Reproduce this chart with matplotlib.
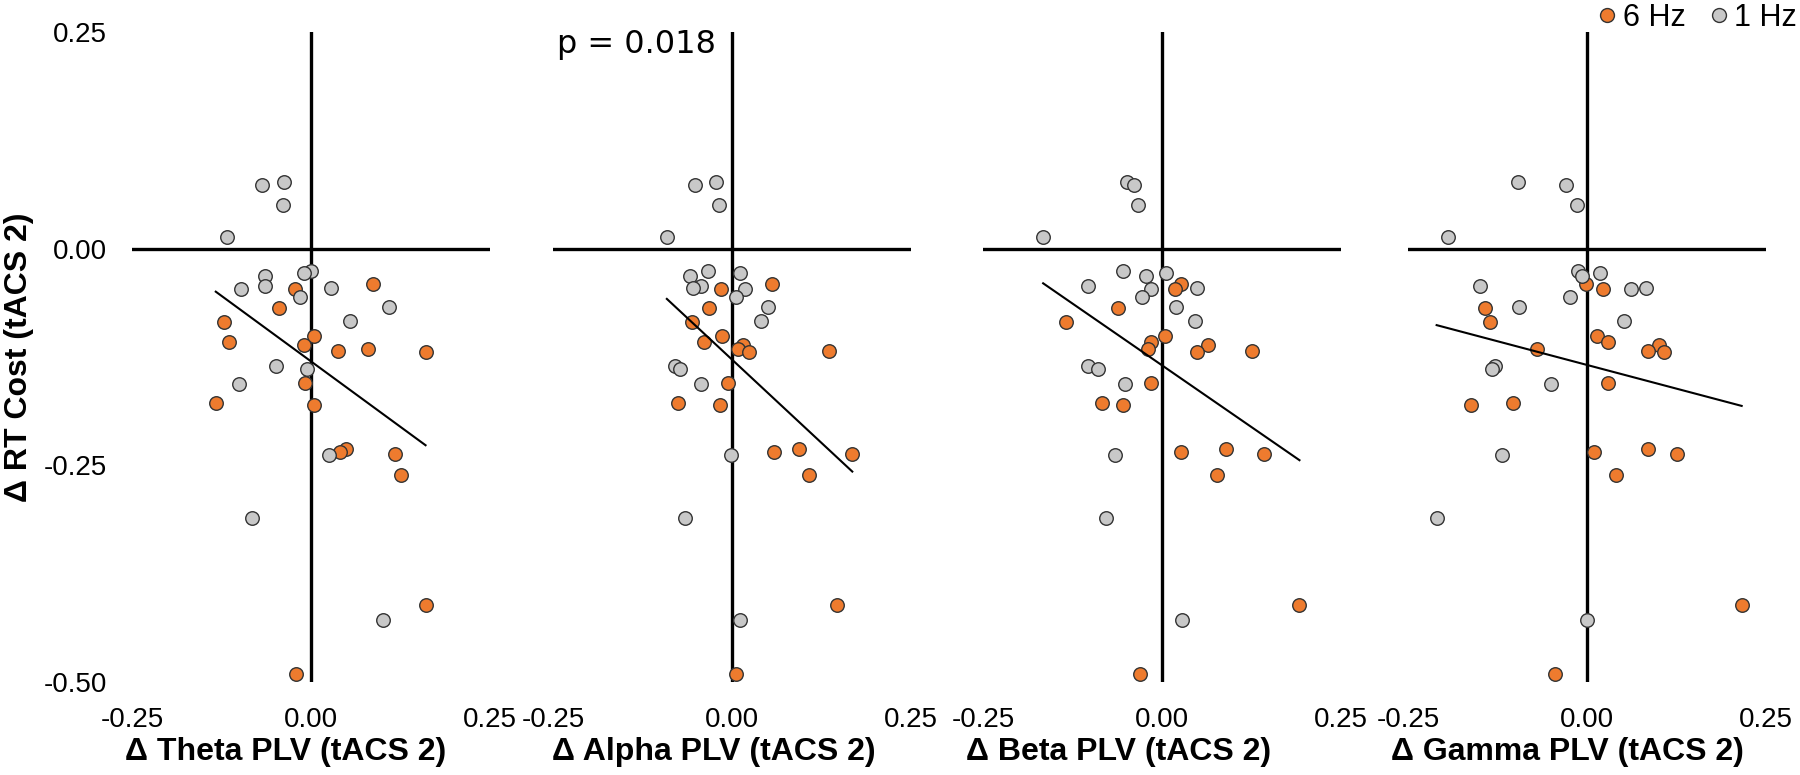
import numpy as np
import matplotlib
matplotlib.use('Agg')
import matplotlib.pyplot as plt

plt.rcParams['font.family'] = ['Liberation Sans', 'DejaVu Sans']
plt.rcParams['axes.unicode_minus'] = False

# Δ RT cost (tACS 2) - same subjects in every panel
rt_6hz = [-0.041, -0.047, -0.069, -0.085, -0.101, -0.108, -0.111, -0.116, -0.118, -0.119,
          -0.155, -0.178, -0.180, -0.231, -0.235, -0.237, -0.261, -0.411, -0.491]
rt_1hz = [0.077, 0.074, 0.050, 0.014, -0.026, -0.028, -0.032, -0.043, -0.045, -0.047,
          -0.056, -0.067, -0.084, -0.135, -0.139, -0.156, -0.238, -0.311, -0.428]

# Δ PLV (tACS 2) per band
theta_6hz = [0.087, -0.023, -0.045, -0.121, 0.004, -0.115, -0.010, 0.080, 0.038, 0.160,
             -0.008, -0.133, 0.004, 0.049, 0.041, 0.117, 0.126, 0.160, -0.021]
theta_1hz = [-0.038, -0.069, -0.039, -0.118, 0.000, -0.010, -0.064, -0.064, 0.028, -0.098,
             -0.015, 0.109, 0.055, -0.049, -0.006, -0.100, 0.025, -0.083, 0.100]
alpha_6hz = [0.056, -0.015, -0.032, -0.056, -0.014, -0.039, 0.016, 0.008, 0.135, 0.024,
             -0.006, -0.076, -0.017, 0.094, 0.059, 0.168, 0.107, 0.146, 0.006]
alpha_1hz = [-0.022, -0.052, -0.018, -0.091, -0.033, 0.011, -0.058, -0.043, -0.054, 0.018,
             0.005, 0.050, 0.040, -0.080, -0.072, -0.043, -0.001, -0.065, 0.011]
beta_6hz = [0.027, 0.018, -0.062, -0.134, 0.004, -0.016, 0.064, -0.020, 0.126, 0.049,
            -0.016, -0.084, -0.054, 0.089, 0.027, 0.143, 0.077, 0.192, -0.031]
beta_1hz = [-0.049, -0.039, -0.033, -0.166, -0.054, 0.006, -0.022, -0.103, 0.049, -0.016,
            -0.028, 0.019, 0.046, -0.104, -0.090, -0.052, -0.065, -0.078, 0.028]
gamma_6hz = [-0.002, 0.023, -0.143, -0.135, 0.014, 0.029, 0.100, -0.070, 0.085, 0.108,
             0.029, -0.104, -0.162, 0.085, 0.010, 0.126, 0.041, 0.216, -0.045]
gamma_1hz = [-0.096, -0.029, -0.014, -0.194, -0.013, 0.018, -0.007, -0.150, 0.083, 0.061,
             -0.024, -0.095, 0.051, -0.128, -0.132, -0.050, -0.119, -0.210, 0.000]

bands = ['Theta', 'Alpha', 'Beta', 'Gamma']
x_6hz = [theta_6hz, alpha_6hz, beta_6hz, gamma_6hz]
x_1hz = [theta_1hz, alpha_1hz, beta_1hz, gamma_1hz]
p_label = 'p = 0.018'

x_ticks = [-0.25, 0.0, 0.25]
y_ticks = [0.25, 0.0, -0.25, -0.5]

col_6hz = '#EE7B2E'
col_1hz = '#C8C8C8'

W, H = 1800, 775
fig = plt.figure(figsize=(W / 100, H / 100), dpi=100)

lefts = [132, 553, 983, 1408]
label_x = [0.43, 0.45, 0.38, 0.445]

for i, band in enumerate(bands):
    ax = fig.add_axes([lefts[i] / W, 93 / H, 358 / W, 650 / H])
    ax.set_xlim(-0.25, 0.25)
    ax.set_ylim(-0.5, 0.25)
    for s in ax.spines.values():
        s.set_visible(False)
    ax.axhline(0, color='black', lw=2.4, zorder=1)
    ax.axvline(0, color='black', lw=2.4, zorder=1)

    ax.scatter(x_6hz[i], rt_6hz, s=95, color=col_6hz, edgecolor='#333333', linewidth=1, zorder=3)
    ax.scatter(x_1hz[i], rt_1hz, s=95, color=col_1hz, edgecolor='#333333', linewidth=1, zorder=3)

    # linear fit over both groups
    xs = np.array(x_6hz[i] + x_1hz[i])
    ys = np.array(rt_6hz + rt_1hz)
    b, a = np.polyfit(xs, ys, 1)
    xx = np.array([xs.min(), xs.max()])
    ax.plot(xx, a + b * xx, color='black', lw=1.5, zorder=4)

    ax.set_xticks(x_ticks)
    ax.set_xticklabels(['%.2f' % t for t in x_ticks])
    ax.tick_params(axis='both', length=0, pad=18, labelsize=20)
    if i == 0:
        ax.set_yticks(y_ticks)
        ax.set_yticklabels(['%.2f' % t for t in y_ticks])
        ax.set_ylabel('Δ RT Cost (tACS 2)', fontsize=23, fontweight='bold', labelpad=7)
    else:
        ax.set_yticks([])
    ax.text(label_x[i], -0.108, f'Δ {band} PLV (tACS 2)', transform=ax.transAxes,
            ha='center', va='center', fontsize=23, fontweight='bold')
    if band == 'Alpha':
        ax.text(0.01, 0.98, p_label, transform=ax.transAxes, ha='left', va='center',
                fontsize=23, family='DejaVu Sans')

handles = [
    plt.Line2D([], [], marker='o', ls='', markersize=10, markerfacecolor=col_6hz,
               markeredgecolor='#333333', markeredgewidth=1, label='6 Hz'),
    plt.Line2D([], [], marker='o', ls='', markersize=10, markerfacecolor=col_1hz,
               markeredgecolor='#333333', markeredgewidth=1, label='1 Hz'),
]
fig.legend(handles=handles, loc='upper right', bbox_to_anchor=(1.0, 1.0), ncol=2,
           frameon=False, fontsize=22, handletextpad=0.0, columnspacing=0.6,
           handlelength=1.0, borderaxespad=0.0, borderpad=0.1)

fig.savefig('out.png', dpi=100)
